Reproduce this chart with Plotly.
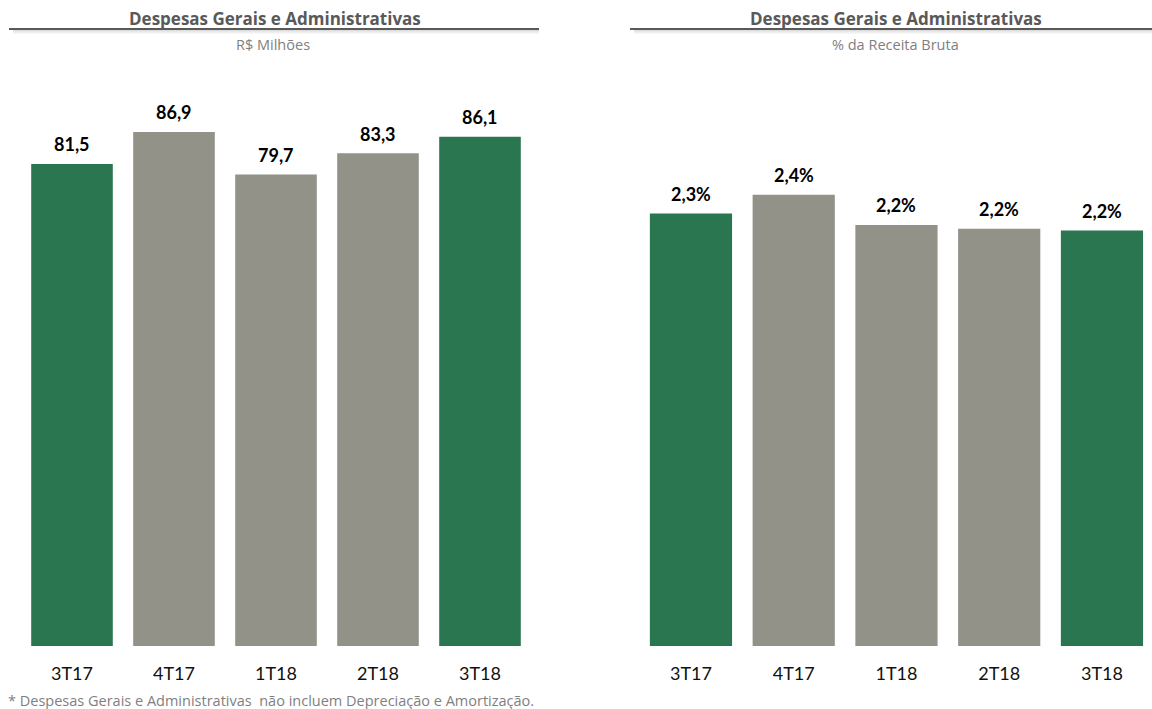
import plotly.graph_objects as go

W, H = 1152, 709

# Quarter labels shared by both panels
quarters = ["3T17", "4T17", "1T18", "2T18", "3T18"]

# G&A expenses, R$ millions
expenses_brl = [81.5, 86.9, 79.7, 83.3, 86.1]

# G&A expenses as % of gross revenue
expenses_pct = [2.30, 2.40, 2.24, 2.22, 2.21]

GREEN = "#2A7650"
GRAY = "#929288"
bar_colors = [GREEN, GRAY, GRAY, GRAY, GREEN]

FONT = "Lato"
TEXT_FONT = "Open Sans"
TITLE = "Despesas Gerais e Administrativas"


def px_y(p):
    """Convert a pixel row (from top) to paper coordinates."""
    return 1 - p / H


def px_x(p):
    return p / W


fig = go.Figure()

fig.add_trace(go.Bar(
    x=quarters, y=expenses_brl, marker=dict(color=bar_colors, line=dict(width=0)),
    xaxis="x", yaxis="y", hoverinfo="skip",
))
fig.add_trace(go.Bar(
    x=quarters, y=expenses_pct, marker=dict(color=bar_colors, line=dict(width=0)),
    xaxis="x2", yaxis="y2", hoverinfo="skip",
))

annotations = []

# Value labels above each bar
for q, v in zip(quarters, expenses_brl):
    annotations.append(dict(
        x=q, y=v, xref="x", yref="y", text=f"{v:.1f}".replace(".", ","),
        showarrow=False, yanchor="middle", yshift=19.5,
        font=dict(family=FONT, size=18, color="#000000", weight="bold"),
    ))
for q, v in zip(quarters, expenses_pct):
    annotations.append(dict(
        x=q, y=v, xref="x2", yref="y2", text=f"{v:.1f}%".replace(".", ","),
        showarrow=False, yanchor="middle", yshift=19.5,
        font=dict(family=FONT, size=18, color="#000000", weight="bold"),
    ))

# Panel titles and subtitles
for cx, sub_cx, sub in [(275, 273, "R$ Milhões"), (896, 895, "% da Receita Bruta")]:
    annotations.append(dict(
        x=px_x(cx), y=px_y(18.5), xref="paper", yref="paper", text=TITLE,
        showarrow=False, xanchor="center", yanchor="middle",
        font=dict(family=TEXT_FONT, size=17, color="#595959", weight="bold"),
    ))
    annotations.append(dict(
        x=px_x(sub_cx), y=px_y(44), xref="paper", yref="paper", text=sub,
        showarrow=False, xanchor="center", yanchor="middle",
        font=dict(family=TEXT_FONT, size=14.5, color="#7F7F7F"),
    ))

# Footnote
annotations.append(dict(
    x=px_x(6), y=px_y(700), xref="paper", yref="paper",
    text="* Despesas Gerais e Administrativas  não incluem Depreciação e Amortização.",
    showarrow=False, xanchor="left", yanchor="middle",
    font=dict(family=TEXT_FONT, size=14.5, color="#7F7F7F"),
))

# Rules under the titles, with a soft shadow beneath
shapes = []
for x0, x1 in [(9, 539), (630, 1152)]:
    for off, col in [(1.5, "#DDDDDD"), (2.5, "#E8E8E8"), (3.5, "#F0F0F0"), (4.5, "#F6F6F6")]:
        shapes.append(dict(
            type="line", xref="paper", yref="paper",
            x0=px_x(x0 + 4), x1=px_x(x1), y0=px_y(29 + off), y1=px_y(29 + off),
            line=dict(color=col, width=1),
        ))
    shapes.append(dict(
        type="line", xref="paper", yref="paper",
        x0=px_x(x0), x1=px_x(x1), y0=px_y(29), y1=px_y(29),
        line=dict(color="#595959", width=2),
    ))

plot_top, plot_bottom = 60, 646
plot_h = plot_bottom - plot_top

axis_common = dict(
    type="category", showgrid=False, zeroline=False, showline=False,
    ticks="", tickfont=dict(family=FONT, size=18, color="#111111"),
    ticklabelstandoff=15, fixedrange=True,
)

fig.update_layout(
    width=W, height=H,
    margin=dict(l=0, r=0, t=0, b=0),
    paper_bgcolor="white", plot_bgcolor="white",
    showlegend=False, bargap=0.2,
    xaxis=dict(domain=[px_x(21), px_x(531)], range=[-0.5, 4.5], anchor="y", **axis_common),
    xaxis2=dict(domain=[px_x(639.6), 1.0], range=[-0.5, 4.487], anchor="y2", **axis_common),
    yaxis=dict(domain=[px_y(plot_bottom), px_y(plot_top)], range=[0, plot_h / 5.915],
               visible=False, fixedrange=True),
    yaxis2=dict(domain=[px_y(plot_bottom), px_y(plot_top)], range=[0, plot_h / 188.0],
                visible=False, fixedrange=True, anchor="x2"),
    annotations=annotations,
    shapes=shapes,
)

fig.write_html("out.html")
